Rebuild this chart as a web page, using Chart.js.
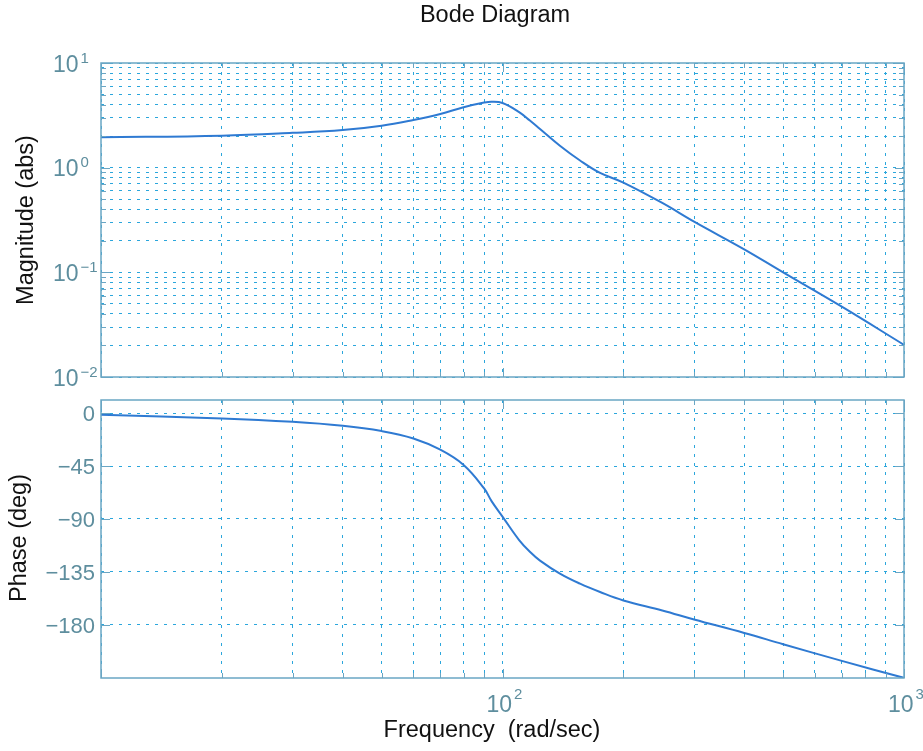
<!DOCTYPE html>
<html lang="en">
<head>
  <meta charset="UTF-8">
  <title>Bode Diagram</title>
  <script src="https://cdn.jsdelivr.net/npm/chart.js@4.4.0/dist/chart.umd.min.js"></script>
  <style>
    body { margin: 0; background: #fff; }
    #wrap { position: relative; width: 923px; height: 751px; }
    #wrap canvas { position: absolute; left: 0; top: 0; }
  </style>
</head>
<body>
  <div id="wrap">
    <canvas id="magChart" width="923" height="751"></canvas>
    <canvas id="phaseChart" width="923" height="751"></canvas>
  </div>
  <script>
    // values
    const freq = [10, 20, 30, 40, 50, 60, 70, 80, 90, 94, 100, 110, 117, 124, 139, 156, 175, 200, 250, 300, 400, 500, 700, 1000];
    const magnitude = [1.95, 2.02, 2.15, 2.29, 2.52, 2.86, 3.26, 3.78, 4.19, 4.27, 4.15, 3.4, 2.82, 2.34, 1.62, 1.17, 0.89, 0.72, 0.46, 0.305, 0.166, 0.1, 0.047, 0.0203];
    const phase = [-1.2, -4.3, -7.2, -10.6, -15.1, -21.4, -31, -44, -64, -75, -88, -108, -118, -125.5, -136.6, -145.2, -152.3, -159.5, -168, -175.7, -187.2, -196.8, -211, -225.5];

    // grid / tick positions
    const freqGrid = [10, 20, 30, 40, 50, 60, 70, 80, 90, 100, 200, 300, 400, 500, 600, 700, 800, 900, 1000];
    const magGrid = [0.01, 0.02, 0.03, 0.04, 0.05, 0.06, 0.07, 0.08, 0.09, 0.1, 0.2, 0.3, 0.4, 0.5, 0.6, 0.7, 0.8, 0.9, 1, 2, 3, 4, 5, 6, 7, 8, 9, 10];
    const magDecades = [-2, -1, 0, 1];
    const freqDecades = [2, 3];
    const phaseTicks = [0, -45, -90, -135, -180];

    const FONT = "'Liberation Sans', Arial, Helvetica, sans-serif";
    const gridColor = '#2ba6dc';
    const frameColor = '#6aa6c4';
    const tickTextColor = '#5e8e9e';
    const lineColor = '#2f7ad2';

    function isDecade(v) {
      return Math.abs(Math.log10(v) - Math.round(Math.log10(v))) < 1e-9;
    }

    function drawFrame(chart, xVals, yVals, yMajor) {
      const ctx = chart.ctx;
      const a = chart.chartArea;
      const xs = chart.scales.x, ys = chart.scales.y;
      ctx.save();
      ctx.strokeStyle = frameColor;
      ctx.lineWidth = 1.5;
      ctx.strokeRect(a.left, a.top, a.right - a.left, a.bottom - a.top);
      ctx.lineWidth = 1;
      ctx.beginPath();
      xVals.forEach(v => {
        const px = Math.round(xs.getPixelForValue(v)) + 0.5;
        const len = isDecade(v) ? 9 : 5;
        ctx.moveTo(px, a.bottom); ctx.lineTo(px, a.bottom - len);
        ctx.moveTo(px, a.top); ctx.lineTo(px, a.top + len);
      });
      yVals.forEach(v => {
        const py = Math.round(ys.getPixelForValue(v)) + 0.5;
        const len = yMajor(v) ? 9 : 5;
        ctx.moveTo(a.left, py); ctx.lineTo(a.left + len, py);
        ctx.moveTo(a.right, py); ctx.lineTo(a.right - len, py);
      });
      ctx.stroke();
      ctx.restore();
    }

    function power(ctx, x, y, exp, size, expSize, expRise) {
      ctx.font = size + 'px ' + FONT;
      ctx.textAlign = 'left';
      ctx.fillText('10', x, y);
      const w = ctx.measureText('10').width;
      ctx.font = expSize + 'px ' + FONT;
      ctx.fillText(exp, x + w + 2, y - expRise);
    }

    function verticalText(ctx, text, x, y) {
      ctx.save();
      ctx.translate(x, y);
      ctx.rotate(-Math.PI / 2);
      ctx.textAlign = 'center';
      ctx.textBaseline = 'middle';
      ctx.fillText(text, 0, 0);
      ctx.restore();
    }

    const magPlugin = {
      id: 'magDecor',
      afterDraw(chart) {
        const ctx = chart.ctx;
        drawFrame(chart, freqGrid, magGrid, isDecade);
        ctx.save();
        ctx.fillStyle = tickTextColor;
        ctx.textBaseline = 'alphabetic';
        magDecades.forEach(d => {
          const py = chart.scales.y.getPixelForValue(Math.pow(10, d));
          const exp = d < 0 ? '\u2212' + (-d) : String(d);
          power(ctx, 53, py + 8.5, exp, 23, 15, 9);
        });
        ctx.fillStyle = '#111';
        ctx.font = '23.5px ' + FONT;
        ctx.textAlign = 'center';
        ctx.fillText('Bode Diagram', 495, 22);
        verticalText(ctx, 'Magnitude (abs)', 27, 220);
        ctx.restore();
      }
    };

    const phasePlugin = {
      id: 'phaseDecor',
      afterDraw(chart) {
        const ctx = chart.ctx;
        drawFrame(chart, freqGrid, phaseTicks, () => true);
        ctx.save();
        ctx.fillStyle = tickTextColor;
        ctx.textBaseline = 'alphabetic';
        ctx.font = '22px ' + FONT;
        ctx.textAlign = 'right';
        phaseTicks.forEach(v => {
          const py = chart.scales.y.getPixelForValue(v);
          const txt = v < 0 ? '\u2212' + (-v) : String(v);
          ctx.fillText(txt, 95, py + 8);
        });
        freqDecades.forEach(d => {
          const px = chart.scales.x.getPixelForValue(Math.pow(10, d));
          power(ctx, px - 16, 712, String(d), 23, 15, 13);
        });
        ctx.fillStyle = '#111';
        ctx.font = '23.5px ' + FONT;
        ctx.textAlign = 'center';
        ctx.fillText('Frequency  (rad/sec)', 492, 737);
        verticalText(ctx, 'Phase (deg)', 20, 538);
        ctx.restore();
      }
    };

    function xScale() {
      return {
        type: 'logarithmic',
        min: 10,
        max: 1000,
        ticks: { display: false },
        grid: { color: gridColor, lineWidth: 1, drawTicks: false, borderDash: [3, 6] },
        border: { display: false, dash: [3, 6] },
        afterBuildTicks: s => { s.ticks = freqGrid.map(v => ({ value: v })); },
        afterFit: s => { s.height = 0; }
      };
    }

    const lineStyle = {
      borderColor: lineColor,
      borderWidth: 2,
      pointRadius: 0,
      fill: false,
      tension: 0.4
    };

    new Chart(document.getElementById('magChart').getContext('2d'), {
      type: 'line',
      data: {
        datasets: [Object.assign({
          label: 'Magnitude',
          data: freq.map((f, i) => ({ x: f, y: magnitude[i] }))
        }, lineStyle)]
      },
      options: {
        responsive: false,
        animation: false,
        events: [],
        layout: { padding: { left: 101, right: 19, top: 63, bottom: 374 } },
        plugins: { legend: { display: false }, tooltip: { enabled: false } },
        scales: {
          x: xScale(),
          y: {
            type: 'logarithmic',
            min: 0.01,
            max: 10,
            ticks: { display: false },
            grid: { color: gridColor, lineWidth: 1, drawTicks: false, borderDash: [3, 6] },
            border: { display: false, dash: [3, 6] },
            afterBuildTicks: s => { s.ticks = magGrid.map(v => ({ value: v })); },
            afterFit: s => { s.width = 0; }
          }
        }
      },
      plugins: [magPlugin]
    });

    new Chart(document.getElementById('phaseChart').getContext('2d'), {
      type: 'line',
      data: {
        datasets: [Object.assign({
          label: 'Phase',
          data: freq.map((f, i) => ({ x: f, y: phase[i] }))
        }, lineStyle)]
      },
      options: {
        responsive: false,
        animation: false,
        events: [],
        layout: { padding: { left: 101, right: 19, top: 400, bottom: 73 } },
        plugins: { legend: { display: false }, tooltip: { enabled: false } },
        scales: {
          x: xScale(),
          y: {
            type: 'linear',
            min: -225.6,
            max: 11.4,
            ticks: { display: false },
            grid: { color: gridColor, lineWidth: 1, drawTicks: false, borderDash: [3, 6] },
            border: { display: false, dash: [3, 6] },
            afterBuildTicks: s => { s.ticks = phaseTicks.map(v => ({ value: v })); },
            afterFit: s => { s.width = 0; }
          }
        }
      },
      plugins: [phasePlugin]
    });
  </script>
</body>
</html>
